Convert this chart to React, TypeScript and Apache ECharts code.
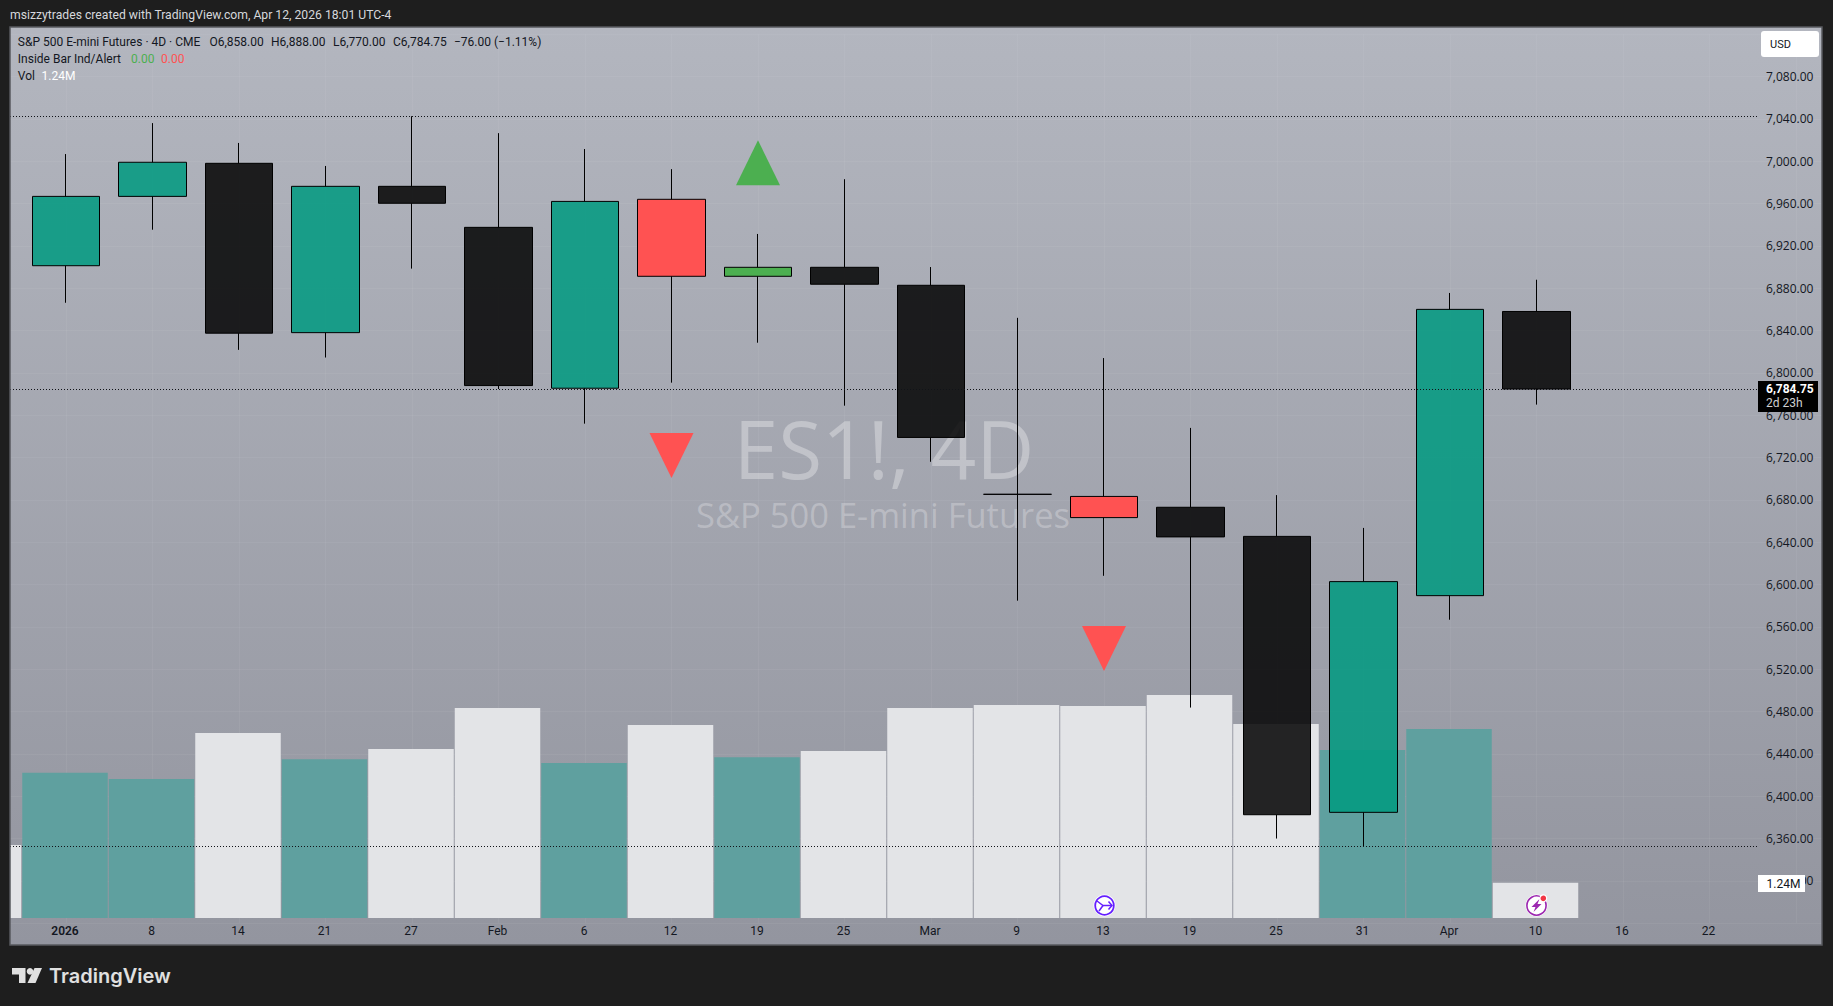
import React, { useEffect, useRef } from "react";
import * as echarts from "echarts";

const FONT = 'Roboto, "Noto Sans", sans-serif';
const WATERMARK_FONT = '"Open Sans", "Noto Sans", sans-serif';

// category labels: first slot is the bar cut off by the left edge, last slot is empty space
const categories = ["", "2026", "8", "14", "21", "27", "Feb", "6", "12", "19", "25", "Mar", "9", "13", "19", "25", "31", "Apr", "10", "16", "22", ""];
const boldLabels = ["2026"];

// [open, close, low, high]
const candles: number[][] = [
  [6901.25, 6966.75, 6866.25, 7006.75],
  [6966.75, 6999.0, 6935.25, 7036.0],
  [6998.0, 6837.5, 6821.75, 7017.25],
  [6838.0, 6976.25, 6814.5, 6995.5],
  [6976.25, 6960.25, 6898.5, 7042.5],
  [6937.5, 6788.0, 6784.75, 7026.5],
  [6785.5, 6962.0, 6752.0, 7011.5],
  [6964.0, 6891.25, 6790.75, 6992.5],
  [6891.25, 6899.75, 6828.5, 6931.25],
  [6899.75, 6883.75, 6769.0, 6983.0],
  [6882.75, 6739.0, 6716.0, 6900.0],
  [6685.25, 6685.25, 6584.75, 6852.0],
  [6683.25, 6663.25, 6608.25, 6814.0],
  [6673.0, 6645.0, 6483.75, 6748.0],
  [6645.5, 6382.5, 6360.0, 6684.5],
  [6384.75, 6602.75, 6352.5, 6653.5],
  [6589.5, 6860.0, 6566.75, 6875.5],
  [6858.0, 6784.75, 6770.0, 6888.0],
];
const candleKinds = ["up", "up", "down", "up", "down", "down", "up", "red", "green", "down", "down", "down", "red", "down", "down", "up", "up", "down"];

// volume in millions, first entry is the cut-off bar
const volumes = [2.56, 5.1, 4.88, 6.5, 5.58, 5.94, 7.38, 5.44, 6.78, 5.65, 5.87, 7.38, 7.48, 7.45, 7.83, 6.81, 5.9, 6.64, 1.24];
const volumeKinds = ["w", "t", "t", "w", "t", "w", "w", "t", "w", "t", "w", "w", "w", "w", "w", "w", "t", "t", "w"];

// inside-bar signals: [category slot, price]
const signalsUp = [[9, 6998.5]];
const signalsDown = [[8, 6722.0], [13, 6539.5]];

// dotted price lines
const priceLevels = [7042.5, 6784.75, 6352.5];

const FILL: Record<string, string> = {
  up: "rgba(0,154,128,0.86)",
  down: "rgba(3,3,3,0.86)",
  red: "#ff5252",
  green: "#4caf50",
};

function label(text: string, x: number, y: number, fill = "#131722", font = `12px ${FONT}`, align = "left") {
  return { type: "text", z: 120, silent: true, style: { text, x, y, fill, font, align, verticalAlign: "middle" } };
}

export default function App() {
  const ref = useRef<HTMLDivElement>(null);

  useEffect(() => {
    document.body.style.margin = "0";
    document.body.style.overflow = "hidden";
    const chart = echarts.init(ref.current!, null, { renderer: "svg" });
    const gridLine = { show: true, lineStyle: { color: "rgba(255,255,255,0.05)", width: 1 } };

    const option: any = {
      animation: false,
      backgroundColor: "#1e1e1e",
      textStyle: { fontFamily: FONT },
      grid: [
        { left: -63.75, width: 1903, outerBoundsMode: "none", top: 34.2, height: 889 },
        { left: -64.75, width: 1903, outerBoundsMode: "none", top: 633.3, height: 284.7 },
      ],
      xAxis: [
        {
          type: "category", gridIndex: 0, data: categories,
          axisLine: { show: false }, axisTick: { show: false }, axisLabel: { show: false },
          splitLine: { ...gridLine, interval: 0, alignWithLabel: true },
        },
        {
          type: "category", gridIndex: 1,
          data: categories.map((c) => (boldLabels.includes(c) ? { value: c, textStyle: { fontWeight: 600 } } : c)),
          axisLine: { show: false }, axisTick: { show: false },
          axisLabel: { interval: 0, margin: 7, color: "#131722", fontSize: 12, fontFamily: FONT },
          splitLine: { show: false },
        },
      ],
      yAxis: [
        {
          type: "value", gridIndex: 0, position: "right", offset: -73.25,
          min: 6280, max: 7120, interval: 40,
          axisLine: { show: false }, axisTick: { show: false },
          splitLine: gridLine,
          axisLabel: {
            margin: 0, color: "#131722", fontSize: 12, fontFamily: WATERMARK_FONT, showMinLabel: false, showMaxLabel: false,
            formatter: (v: number) => v.toLocaleString("en-US", { minimumFractionDigits: 2, maximumFractionDigits: 2 }),
          },
        },
        { type: "value", gridIndex: 1, min: 0, max: 10, show: false, splitLine: { show: false } },
      ],
      series: [
        {
          type: "bar", name: "Vol", xAxisIndex: 1, yAxisIndex: 1, z: 1, barWidth: 85.5,
          data: volumes.map((v, i) => ({ value: v, itemStyle: { color: volumeKinds[i] === "w" ? "#e3e4e7" : "#5fa09f" } })),
        },
        {
          type: "candlestick", name: "ES1!", xAxisIndex: 0, yAxisIndex: 0, z: 2, barWidth: 68,
          data: ["-", ...candles].map((c: any, i) =>
            c === "-" ? "-" : {
              value: c,
              itemStyle: {
                color: FILL[candleKinds[i - 1]], color0: FILL[candleKinds[i - 1]],
                borderColor: "#000", borderColor0: "#000", borderColorDoji: "#000", borderWidth: 1,
              },
            }),
        },
        {
          type: "scatter", name: "Inside up", xAxisIndex: 0, yAxisIndex: 0, z: 3,
          symbol: "triangle", symbolSize: [44, 45], itemStyle: { color: "#4caf50", opacity: 1 }, data: signalsUp,
        },
        {
          type: "scatter", name: "Inside down", xAxisIndex: 0, yAxisIndex: 0, z: 3,
          symbol: "triangle", symbolSize: [44, 45], symbolRotate: 180, itemStyle: { color: "#ff5252", opacity: 1 }, data: signalsDown,
        },
        {
          type: "custom", name: "Levels", xAxisIndex: 0, yAxisIndex: 0, z: 4, clip: false,
          encode: { y: 0 },
          data: priceLevels.map((p) => [p]),
          renderItem: (_: any, api: any) => {
            const y = Math.round(api.coord([0, api.value(0)])[1]) + 0.5;
            return {
              type: "line", silent: true,
              shape: { x1: 10, y1: y, x2: 1757, y2: y },
              style: { stroke: "#111318", lineWidth: 1, lineDash: [1, 2], fill: null },
            };
          },
        },
      ],
      graphic: {
        elements: [
          // chart panel
          {
            type: "rect", z: -10, silent: true, shape: { x: 10, y: 27, width: 1812, height: 918 },
            style: {
              fill: new echarts.graphic.LinearGradient(0, 0, 0, 1, [
                { offset: 0, color: "#b3b6bf" },
                { offset: 1, color: "#93959f" },
              ]),
            },
          },
          // watermark
          { type: "text", z: -9, silent: true, style: { text: "ES1!, 4D", x: 884, y: 447, align: "center", verticalAlign: "middle", fill: "rgba(255,255,255,0.32)", font: `500 80px ${WATERMARK_FONT}` } },
          { type: "text", z: -9, silent: true, style: { text: "S&P 500 E-mini Futures", x: 883, y: 514, align: "center", verticalAlign: "middle", fill: "rgba(255,255,255,0.26)", font: `500 34.5px ${WATERMARK_FONT}` } },
          // outer covers and panel frame
          { type: "rect", z: 90, silent: true, shape: { x: 0, y: 0, width: 10, height: 1006 }, style: { fill: "#1e1e1e" } },
          { type: "rect", z: 90, silent: true, shape: { x: 1822, y: 0, width: 11, height: 1006 }, style: { fill: "#1e1e1e" } },
          { type: "rect", z: 91, silent: true, shape: { x: 10, y: 27, width: 1812, height: 918 }, style: { fill: "none", stroke: "#585a5f", lineWidth: 1.5 } },
          // page header and footer
          label("msizzytrades created with TradingView.com, Apr 12, 2026 18:01 UTC-4", 10, 14.5, "#d6d8dc", `12.2px ${FONT}`),
          // legend rows
          label("S&P 500 E-mini Futures · 4D · CME", 17.8, 41.5),
          label("O6,858.00", 209.5, 41.5),
          label("H6,888.00", 271, 41.5),
          label("L6,770.00", 333, 41.5),
          label("C6,784.75", 393, 41.5),
          label("−76.00 (−1.11%)", 454, 41.5),
          label("Inside Bar Ind/Alert", 17.8, 58.5),
          label("0.00", 131, 58.5, "#4caf50"),
          label("0.00", 161, 58.5, "#ff5252"),
          label("Vol", 17.8, 75.5),
          label("1.24M", 41.5, 75.5, "#ffffff"),
          // USD button
          { type: "rect", z: 110, silent: true, shape: { x: 1761, y: 31, width: 58, height: 26, r: 3 }, style: { fill: "#ffffff" } },
          label("USD", 1770, 44.5, "#131722", `11px ${FONT}`),
          // last price tag
          { type: "rect", z: 110, silent: true, shape: { x: 1758, y: 381, width: 60, height: 31 }, style: { fill: "#000000" } },
          label("6,784.75", 1766, 389, "#ffffff", `bold 12px ${FONT}`),
          label("2d 23h", 1766, 403, "#d0d0d0", `12px ${FONT}`),
          // volume tag
          { type: "rect", z: 110, silent: true, shape: { x: 1758, y: 875, width: 47, height: 17 }, style: { fill: "#ffffff" } },
          label("1.24M", 1766.5, 883.5),
          // purple event icon
          { type: "circle", z: 110, silent: true, shape: { cx: 1104.5, cy: 905.5, r: 11 }, style: { fill: "#ffffff" } },
          { type: "circle", z: 111, silent: true, shape: { cx: 1104.5, cy: 905.5, r: 9.3 }, style: { fill: "none", stroke: "#651fff", lineWidth: 1.8 } },
          { type: "polyline", z: 111, silent: true, shape: { points: [[1097, 901], [1103, 905.5], [1112, 905.5]] }, style: { fill: "none", stroke: "#651fff", lineWidth: 1.5 } },
          { type: "polyline", z: 111, silent: true, shape: { points: [[1099, 911], [1103, 905.5]] }, style: { fill: "none", stroke: "#651fff", lineWidth: 1.5 } },
          { type: "polyline", z: 111, silent: true, shape: { points: [[1108.5, 901.5], [1112, 905.5], [1108.5, 909.5]] }, style: { fill: "none", stroke: "#651fff", lineWidth: 1.5 } },
          // lightning icon
          { type: "circle", z: 110, silent: true, shape: { cx: 1536.5, cy: 905.5, r: 11 }, style: { fill: "#ffffff" } },
          { type: "circle", z: 111, silent: true, shape: { cx: 1536.5, cy: 905.5, r: 9.6 }, style: { fill: "none", stroke: "#9c27b0", lineWidth: 1.6 } },
          { type: "polygon", z: 111, silent: true, shape: { points: [[1539.5, 899], [1531.5, 907], [1535.5, 907], [1533.5, 912], [1541.5, 904], [1537.5, 904]] }, style: { fill: "#9c27b0" } },
          { type: "circle", z: 112, silent: true, shape: { cx: 1543.3, cy: 898.3, r: 4 }, style: { fill: "#ffffff" } },
          { type: "circle", z: 113, silent: true, shape: { cx: 1543.3, cy: 898.3, r: 2.8 }, style: { fill: "#f23645" } },
          // TradingView logo
          { type: "polygon", z: 120, silent: true, shape: { points: [[12, 968], [25.5, 968], [25.5, 983], [19, 983], [19, 974.5], [12, 974.5]] }, style: { fill: "#e0e0e0" } },
          { type: "circle", z: 120, silent: true, shape: { cx: 30, cy: 971.3, r: 3.3 }, style: { fill: "#e0e0e0" } },
          { type: "polygon", z: 120, silent: true, shape: { points: [[34.5, 968], [42, 968], [35.5, 983], [27.5, 983]] }, style: { fill: "#e0e0e0" } },
          label("TradingView", 49, 975.5, "#e0e0e0", `600 20px Inter, ${FONT}`),
        ],
      },
    };

    chart.setOption(option);
    return () => chart.dispose();
  }, []);

  return <div ref={ref} style={{ width: 1833, height: 1006 }} />;
}
